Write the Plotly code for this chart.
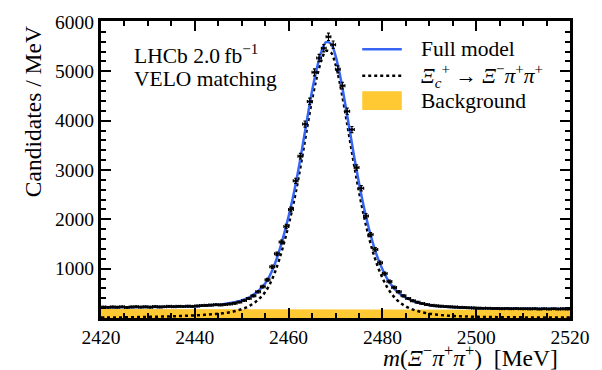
import numpy as np
import plotly.graph_objects as go

# ---------------- data ----------------
bin_lo, bin_hi = 2420, 2520          # 1 MeV bins
counts = [
    222, 218, 225, 220, 228, 215, 224, 230, 222, 226,
    219, 232, 225, 228, 236, 230, 238, 233, 240, 236,
    245, 252, 258, 262, 270, 266, 275, 285, 300, 322,
    355, 395, 450, 530, 635, 775, 1040, 1300, 1540, 1855,
    2200, 2780, 3280, 3930, 4390, 4980, 5270, 5470, 5700, 5540,
    5040, 4710, 4190, 3820, 3050, 2630, 2070, 1690, 1390, 1120,
    900, 740, 620, 530, 450, 395, 350, 318, 292, 272,
    258, 248, 240, 232, 226, 222, 216, 212, 208, 205,
    200, 196, 199, 193, 195, 190, 194, 188, 191, 186,
    189, 185, 190, 184, 187, 183, 186, 182, 185, 181,
]
model_mass = list(range(2420, 2521))
full_model = [
    212, 213, 214, 215, 216, 217, 218, 219, 220, 221,
    222, 223, 224, 225, 226, 227, 229, 231, 233, 235,
    238, 243, 249, 256, 263, 271, 281, 293, 308, 328,
    355, 390, 440, 505, 590, 700, 860, 1080, 1360, 1690,
    2060, 2480, 2960, 3500, 4060, 4600, 5050, 5400, 5590, 5560,
    5320, 4900, 4380, 3820, 3260, 2740, 2270, 1860, 1510, 1220,
    990, 800, 660, 550, 470, 410, 365, 330, 302, 280,
    263, 250, 240, 232, 225, 219, 214, 210, 206, 203,
    200, 198, 197, 196, 195, 194, 193, 192, 191, 190,
    190, 189, 189, 188, 188, 187, 187, 186, 186, 185, 185,
]
signal_model = [
    8, 9, 10, 11, 12, 13, 14, 16, 18, 20,
    22, 24, 26, 28, 30, 33, 36, 40, 44, 48,
    53, 58, 64, 70, 78, 86, 96, 108, 126, 150,
    180, 215, 265, 330, 415, 525, 685, 905, 1185, 1515,
    1885, 2305, 2785, 3325, 3885, 4425, 4875, 5225, 5415, 5385,
    5145, 4725, 4205, 3645, 3085, 2565, 2095, 1685, 1335, 1045,
    815, 625, 485, 375, 295, 235, 190, 155, 127, 105,
    88, 74, 63, 54, 47, 41, 36, 32, 29, 26,
    24, 22, 20, 19, 18, 17, 16, 15, 14, 13,
    13, 12, 12, 11, 11, 10, 10, 10, 9, 9, 9,
]
bkg_mass = [2420, 2430, 2440, 2450, 2460, 2470, 2480, 2490, 2500, 2510, 2520]
bkg_model = [184, 182, 180, 178, 177, 175, 173, 172, 170, 168, 166]

x_range = [2420, 2520]
y_range = [0, 6020]
y_major = [1000, 2000, 3000, 4000, 5000, 6000]

W, H = 602, 370
L, R, T, B = 101, 27, 14, 52
PW, PH = W - L - R, H - T - B
FONT = "Liberation Serif"
BLUE = "#3766F4"
YELLOW = "#FFC933"


def px(x):
    return (x - L) / PW


def py(y):
    return (H - B - y) / PH


centers = np.arange(bin_lo, bin_hi) + 0.5
errs = np.sqrt(np.array(counts, dtype=float))

fig = go.Figure()
fig.add_trace(go.Scatter(x=bkg_mass, y=bkg_model, mode="lines", fill="tozeroy",
                         fillcolor=YELLOW, line=dict(width=0, color=YELLOW),
                         hoverinfo="skip"))
fig.add_trace(go.Scatter(x=model_mass, y=signal_model, mode="lines",
                         line=dict(color="black", dash="dot", width=2.5, shape="spline")))
fig.add_trace(go.Scatter(x=model_mass, y=full_model, mode="lines",
                         line=dict(color=BLUE, width=2.5, shape="spline")))
fig.add_trace(go.Scatter(x=centers, y=counts, mode="markers",
                         marker=dict(color="black", size=3),
                         error_y=dict(type="data", array=errs, color="black",
                                      thickness=1.2, width=1.5),
                         error_x=dict(type="constant", value=0.5, color="black",
                                      thickness=1.2, width=1.5)))

common = dict(showline=True, linecolor="black", linewidth=3, mirror="ticks",
              ticks="inside", ticklen=10, tickwidth=2, tickcolor="black",
              showgrid=False, zeroline=False,
              tickfont=dict(family=FONT, size=19.5, color="black"))
fig.update_layout(
    xaxis=dict(range=x_range, tickmode="linear", tick0=2420, dtick=20,
               minor=dict(ticks="inside", ticklen=5, tickwidth=1.5,
                          tickcolor="black", dtick=5, tick0=2420),
               **common),
    yaxis=dict(range=y_range, tickmode="array", tickvals=y_major,
               minor=dict(ticks="inside", ticklen=5, tickwidth=1.5,
                          tickcolor="black", dtick=200, tick0=0),
               **common),
)

anns = []
TF = dict(family=FONT, size=21.5, color="black")
TF2 = dict(family=FONT, size=23.5, color="black")
anns.append(dict(x=px(132), y=py(48), text="LHCb 2.0\u2009fb<sup>\u22121</sup>",
                 xanchor="left", yanchor="middle", font=TF))
anns.append(dict(x=px(132), y=py(73), text="VELO matching",
                 xanchor="left", yanchor="middle", font=TF))
anns.append(dict(x=px(422), y=py(43), text="Full model", xanchor="left",
                 yanchor="middle", font=TF))
anns.append(dict(x=px(422), y=py(70),
                 text="<i>\u039e</i><sub><i>c</i></sub><sup>+</sup> \u2192 "
                      "<i>\u039e</i><sup>\u2212</sup><i>\u03c0</i><sup>+</sup><i>\u03c0</i><sup>+</sup>",
                 xanchor="left", yanchor="middle", font=TF))
anns.append(dict(x=px(422), y=py(96), text="Background", xanchor="left",
                 yanchor="middle", font=TF))
anns.append(dict(x=px(565), y=py(357),
                 text="<i>m</i>(<i>\u039e</i><sup>\u2212</sup><i>\u03c0</i><sup>+</sup>"
                      "<i>\u03c0</i><sup>+</sup>)\u2002[MeV]",
                 xanchor="right", yanchor="middle", font=TF2))
anns.append(dict(x=px(33), y=py(17), text="Candidates / MeV", textangle=-90,
                 xanchor="center", yanchor="top", font=TF2))
for a in anns:
    a.update(xref="paper", yref="paper", showarrow=False)

shapes = [
    dict(type="line", x0=px(365), x1=px(405), y0=py(43), y1=py(43),
         line=dict(color=BLUE, width=2.5)),
    dict(type="line", x0=px(365), x1=px(405), y0=py(70), y1=py(70),
         line=dict(color="black", width=2.5, dash="dot")),
    dict(type="rect", x0=px(365), x1=px(405), y0=py(105), y1=py(86),
         line=dict(width=0), fillcolor=YELLOW),
]
for s in shapes:
    s.update(xref="paper", yref="paper")

fig.update_layout(width=W, height=H, margin=dict(l=L, r=R, t=T, b=B),
                  plot_bgcolor="white", paper_bgcolor="white",
                  showlegend=False, annotations=anns, shapes=shapes,
                  font=dict(family=FONT, color="black"))

fig.write_html("out.html", config={"displayModeBar": False},
               post_script="document.body.style.margin='0';")
